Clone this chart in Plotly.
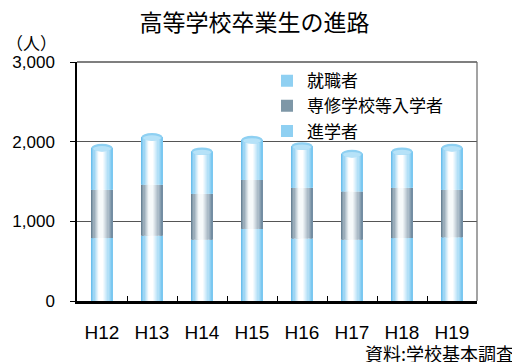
import plotly.graph_objects as go

# ---- data ----
years = ["H12", "H13", "H14", "H15", "H16", "H17", "H18", "H19"]
shingaku = [790, 820, 770, 905, 785, 770, 790, 800]      # 進学者 (bottom)
senshu = [605, 640, 575, 615, 635, 605, 630, 595]        # 専修学校等入学者 (middle)
shushoku = [530, 600, 535, 505, 525, 475, 460, 530]      # 就職者 (top)
y_ticks = [0, 1000, 2000, 3000]

FONT = "Liberation Sans, Arial, Noto Sans CJK JP"
JP = "Noto Sans CJK JP, sans-serif"
BAR_W = 0.42
N = 18


def h2r(h):
    h = h.lstrip("#")
    return [int(h[i:i + 2], 16) for i in (0, 2, 4)]


def mix(a, b, f):
    return "rgb(%d,%d,%d)" % tuple(round(a[k] + (b[k] - a[k]) * f) for k in range(3))


def shade(edgeL, hi, edgeR, t, t0=0.45, plateau=0.16):
    if t < t0:
        d = (t0 - t) / t0
        edge = edgeL
    else:
        d = (t - t0) / (1 - t0)
        edge = edgeR
    f = max(0.0, min(1.0, 1 - (d - plateau) / (1 - plateau)))
    return mix(h2r(edge), h2r(hi), f ** 0.85)


BLUE = ("#58b7eb", "#ffffff", "#6ec3f0")
GRAY = ("#58758a", "#f6f9fa", "#67839a")

base_mid = shingaku
base_top = [a + b for a, b in zip(shingaku, senshu)]
totals = [a + b for a, b in zip(base_top, shushoku)]

fig = go.Figure()
segments = [
    (shingaku, [0] * len(years), BLUE),
    (senshu, base_mid, GRAY),
    (shushoku, base_top, BLUE),
]
for vals, base, pal in segments:
    for i in range(N):
        t = (i + 0.5) / N
        w = BAR_W / N
        fig.add_trace(go.Bar(
            x=years, y=vals, base=base,
            offset=-BAR_W / 2 + i * w,
            width=w * (1.3 if i < N - 1 else 1.0),
            marker=dict(color=shade(*pal, t), line=dict(width=0)),
            showlegend=False, hoverinfo="skip",
        ))

# legend entries
for name, col in [("就職者", "#8fd0f2"), ("専修学校等入学者", "#7e97a7"), ("進学者", "#8fd0f2")]:
    fig.add_trace(go.Bar(x=[years[0]], y=[None], name=name,
                         marker=dict(color=col, line=dict(width=0))))

shapes = []
cap_h = 48
for i, tot in enumerate(totals):
    shapes.append(dict(type="circle", xref="x", yref="y",
                       x0=i - BAR_W / 2, x1=i + BAR_W / 2,
                       y0=tot - cap_h, y1=tot + cap_h,
                       fillcolor="#8ed0f2", line=dict(width=0), layer="above"))
    shapes.append(dict(type="circle", xref="x", yref="y",
                       x0=i - BAR_W / 2 + 0.03, x1=i + BAR_W / 2 - 0.03,
                       y0=tot - cap_h, y1=tot + cap_h * 0.4,
                       fillcolor="#b6e2f8", line=dict(width=0), layer="above"))
# top and right frame
shapes.append(dict(type="line", xref="paper", yref="paper", x0=0, x1=1, y0=1, y1=1,
                   line=dict(color="black", width=1.2)))
shapes.append(dict(type="line", xref="paper", yref="paper", x0=1, x1=1, y0=0, y1=1,
                   line=dict(color="#666666", width=1.2)))

fig.update_layout(
    width=512, height=362,
    margin=dict(l=77, r=35, t=62, b=61),
    paper_bgcolor="white", plot_bgcolor="white",
    barmode="overlay", bargap=0.6,
    font=dict(family=FONT, color="black"),
    title=dict(text="高等学校卒業生の進路", x=0.497, xref="container", xanchor="center",
               y=1 - 23 / 362, yref="container", yanchor="middle",
               font=dict(family=JP, size=23, color="black")),
    legend=dict(x=0.475, y=0.995, xanchor="left", yanchor="top",
                font=dict(family=JP, size=17, color="black"),
                bgcolor="rgba(0,0,0,0)", traceorder="normal", tracegroupgap=0),
    shapes=shapes,
    annotations=[
        dict(text="（人）", xref="paper", yref="paper", x=(4 - 77) / 400, y=(301 - 42) / 239,
             xanchor="left", yanchor="middle", showarrow=False,
             font=dict(family=JP, size=17, color="black")),
        dict(text="資料:学校基本調査", xref="paper", yref="paper", x=(516 - 77) / 400,
             y=(301 - 353) / 239, xanchor="right", yanchor="middle", showarrow=False,
             font=dict(family=JP, size=18, color="black")),
    ],
)
fig.update_xaxes(type="category", showline=True, linecolor="black", linewidth=2.5,
                 ticks="inside", tickson="boundaries", ticklen=5, tickcolor="black",
                 ticklabelstandoff=12, tickfont=dict(size=19, family=FONT),
                 showgrid=False, range=[-0.5, 7.5])
fig.update_yaxes(range=[0, 3000], tickvals=y_ticks, tickformat=",",
                 showline=True, linecolor="black", linewidth=1.5,
                 ticks="outside", ticklen=5, tickcolor="black",
                 ticklabelstandoff=12, tickfont=dict(size=17, family=FONT),
                 showgrid=True, gridcolor="#555555", gridwidth=1, zeroline=False)

fig.write_html("out.html")
